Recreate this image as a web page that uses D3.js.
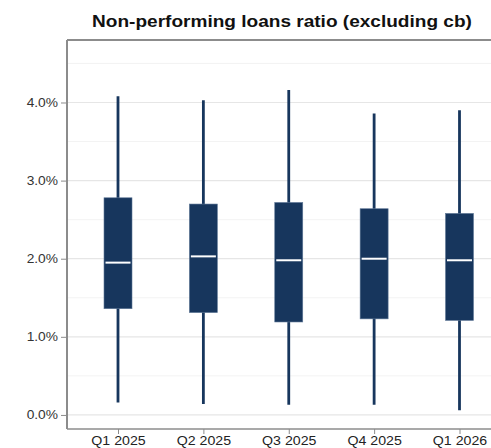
<!DOCTYPE html>
<html>
<head>
<meta charset="utf-8">
<script src="https://cdn.jsdelivr.net/npm/d3@7"></script>
<style>
  html, body { margin: 0; padding: 0; background: #fff; }
  svg { display: block; }
</style>
</head>
<body>
<svg id="chart" width="491" height="448"></svg>
<script>
// Quarterly distribution of the NPL ratio (in %), banks excluding central bank
const quarters = ["Q1 2025", "Q2 2025", "Q3 2025", "Q4 2025", "Q1 2026"];
const whiskerLow  = [0.16, 0.14, 0.13, 0.13, 0.06];
const boxLow      = [1.36, 1.31, 1.19, 1.23, 1.21];
const medians     = [1.95, 2.03, 1.98, 2.00, 1.98];
const boxHigh     = [2.78, 2.70, 2.72, 2.64, 2.58];
const whiskerHigh = [4.08, 4.03, 4.16, 3.86, 3.90];
const yTicks      = [0, 1, 2, 3, 4];
const yMinorTicks = [0.5, 1.5, 2.5, 3.5, 4.5];

const svg = d3.select("#chart");
const plot = { left: 67, right: 491, top: 40, bottom: 429 };
const FONT = "Liberation Sans, Arial, sans-serif";

const x = d3.scalePoint()
  .domain(quarters)
  .range([118, 459.5]);

const y = d3.scaleLinear()
  .domain([-0.18, 4.8])
  .range([plot.bottom, plot.top]);

const boxColor = "#17365d";
const boxWidth = 28;

// Widen text glyphs slightly (the chart's typeface is set a bit wide)
function widen(sel, factor) {
  sel.each(function () {
    const len = this.getComputedTextLength();
    d3.select(this)
      .attr("textLength", len * factor)
      .attr("lengthAdjust", "spacingAndGlyphs");
  });
}

// Title
svg.append("text")
  .attr("x", 282)
  .attr("y", 27)
  .attr("text-anchor", "middle")
  .attr("font-family", FONT)
  .attr("font-weight", "bold")
  .attr("font-size", 17)
  .attr("fill", "#111")
  .text("Non-performing loans ratio (excluding cb)")
  .call(widen, 1.12);

// Gridlines
const grid = svg.append("g");
grid.selectAll("line.minor")
  .data(yMinorTicks)
  .join("line")
  .attr("class", "minor")
  .attr("x1", plot.left).attr("x2", plot.right)
  .attr("y1", d => y(d)).attr("y2", d => y(d))
  .attr("stroke", "#f3f3f3")
  .attr("stroke-width", 1);
grid.selectAll("line.major")
  .data(yTicks)
  .join("line")
  .attr("class", "major")
  .attr("x1", plot.left).attr("x2", plot.right)
  .attr("y1", d => y(d)).attr("y2", d => y(d))
  .attr("stroke", "#e6e6e6")
  .attr("stroke-width", 1.2);

// Top border of the panel
svg.append("line")
  .attr("x1", plot.left).attr("x2", plot.right)
  .attr("y1", plot.top).attr("y2", plot.top)
  .attr("stroke", "#8c8c8c")
  .attr("stroke-width", 2);

// Y axis
const yAxis = svg.append("g")
  .attr("transform", `translate(${plot.left},0)`)
  .call(d3.axisLeft(y)
    .tickValues(yTicks)
    .tickFormat(d => d.toFixed(1) + "%")
    .tickSize(6)
    .tickPadding(3));
yAxis.select(".domain")
  .attr("d", `M0,${plot.top}V${plot.bottom}`)
  .attr("stroke", "#8c8c8c")
  .attr("stroke-width", 2);
yAxis.selectAll(".tick line").attr("stroke", "#8c8c8c");
yAxis.selectAll(".tick text")
  .attr("font-family", FONT)
  .attr("font-size", 12.5)
  .attr("fill", "#333")
  .call(widen, 1.1);

// X axis
const xAxis = svg.append("g")
  .attr("transform", `translate(0,${plot.bottom})`)
  .call(d3.axisBottom(x).tickSize(5).tickPadding(2));
xAxis.select(".domain")
  .attr("d", `M${plot.left},0H${plot.right}`)
  .attr("stroke", "#8c8c8c")
  .attr("stroke-width", 1.5);
xAxis.selectAll(".tick line").attr("stroke", "#8c8c8c");
xAxis.selectAll(".tick text")
  .attr("font-family", FONT)
  .attr("font-size", 12)
  .attr("fill", "#222")
  .call(widen, 1.18);

// Box plots
const rows = quarters.map((q, i) => ({
  q, lo: whiskerLow[i], q1: boxLow[i], med: medians[i], q3: boxHigh[i], hi: whiskerHigh[i]
}));

const boxes = svg.append("g").selectAll("g")
  .data(rows)
  .join("g")
  .attr("transform", d => `translate(${x(d.q)},0)`);

boxes.append("line")
  .attr("x1", 0).attr("x2", 0)
  .attr("y1", d => y(d.lo)).attr("y2", d => y(d.hi))
  .attr("stroke", boxColor)
  .attr("stroke-width", 2.8);

boxes.append("rect")
  .attr("x", -boxWidth / 2)
  .attr("width", boxWidth)
  .attr("y", d => y(d.q3))
  .attr("height", d => y(d.q1) - y(d.q3))
  .attr("fill", boxColor)
  .attr("stroke", "#5f7897")
  .attr("stroke-width", 0.6);

boxes.append("line")
  .attr("x1", -boxWidth / 2 + 1.5).attr("x2", boxWidth / 2 - 1.5)
  .attr("y1", d => y(d.med)).attr("y2", d => y(d.med))
  .attr("stroke", "#fff")
  .attr("stroke-width", 2);
</script>
</body>
</html>
